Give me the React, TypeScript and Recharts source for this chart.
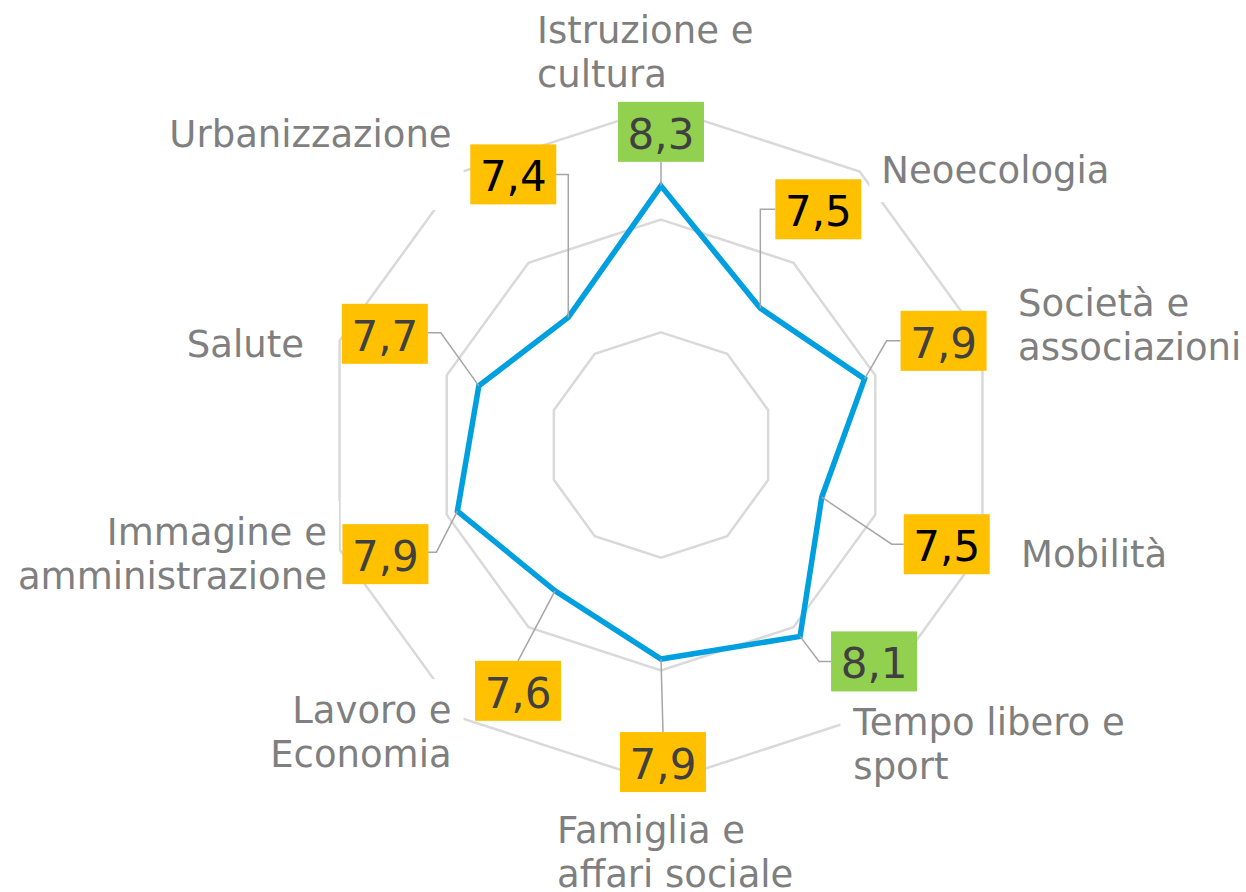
import React, { useLayoutEffect, useRef, useState } from 'react';
import { RadarChart, Radar, PolarGrid, PolarAngleAxis, PolarRadiusAxis } from 'recharts';

// categorie (a capo con \n come nel grafico originale)
const categories = [
    'Istruzione e\ncultura',
    'Neoecologia',
    'Società e\nassociazioni',
    'Mobilità',
    'Tempo libero e\nsport',
    'Famiglia e\naffari sociale',
    'Lavoro e\nEconomia',
    'Immagine e\namministrazione',
    'Salute',
    'Urbanizzazione',
];
const scores = [8.3, 7.5, 7.9, 7.5, 8.1, 7.9, 7.6, 7.9, 7.7, 7.4];
const radiusTicks = [6, 7, 8, 9];

const data = categories.map((name, i) => ({ name, score: scores[i] }));

// posizione delle etichette di categoria rispetto al tick calcolato da recharts
const categoryPlacement = [
    { dx: -124, dy: -56, anchor: 'start', extraBottom: 0 },
    { dx: 17, dy: 18, anchor: 'start', extraBottom: 0 },
    { dx: 28, dy: -22, anchor: 'start', extraBottom: 0 },
    { dx: 31, dy: 15, anchor: 'start', extraBottom: 0 },
    { dx: -11, dy: 10, anchor: 'start', extraBottom: 0 },
    { dx: -104, dy: 52, anchor: 'start', extraBottom: 0 },
    { dx: -6, dy: -2, anchor: 'end', extraBottom: 0 },
    { dx: -5, dy: -7, anchor: 'end', extraBottom: 0 },
    { dx: -28, dy: 19, anchor: 'end', extraBottom: 0 },
    { dx: -6, dy: -18, anchor: 'end', extraBottom: 44 },
];

// box dei valori: centro rispetto al punto + linea di richiamo
const valueLabelLayout = [
    { box: [0, -54], path: [[0, 0], [0, -24]] },
    { box: [58, -99], path: [[0, 0], [0, -99], [15, -99]] },
    { box: [79, -38], path: [[0, 0], [22, -38], [36, -38]] },
    { box: [125, 47], path: [[0, 0], [70, 47], [82, 47]] },
    { box: [74, 25], path: [[0, 0], [19, 25], [31, 25]] },
    { box: [2, 103], path: [[0, 0], [2, 73]] },
    { box: [-37, 100], path: [[0, 0], [-37, 70]] },
    { box: [-72, 43], path: [[0, 0], [-21, 41], [-32, 41]] },
    { box: [-94, -52], path: [[0, 0], [-38, -53], [-51, -53]] },
    { box: [-55, -143], path: [[0, 0], [0, -143], [-14, -143]] },
];

const FONT = '"DejaVu Sans", Verdana, sans-serif';
const BOX_W = 86;
const BOX_H = 60;

const CategoryTick = (props: any) => {
    const { x, y, payload } = props;
    const i = payload?.index ?? props.index ?? 0;
    const place = categoryPlacement[i];
    const lines = String(payload.value).split('\n');
    const ref = useRef<SVGTextElement>(null);
    const [bg, setBg] = useState<{ x: number; y: number; w: number; h: number } | null>(null);

    useLayoutEffect(() => {
        if (ref.current) {
            const b = ref.current.getBBox();
            setBg({ x: b.x - 12, y: b.y - 10, w: b.width + 24, h: b.height + 20 + place.extraBottom });
        }
    }, [x, y]);

    const tx = x + place.dx;
    const ty = y + place.dy;
    return (
        <g>
            {bg && <rect x={bg.x} y={bg.y} width={bg.w} height={bg.h} fill="#ffffff" />}
            <text
                ref={ref}
                x={tx}
                y={ty}
                textAnchor={place.anchor}
                fill="#7f7f7f"
                fontSize={37}
                fontFamily={FONT}
            >
                {lines.map((line, k) => (
                    <tspan key={k} x={tx} dy={k === 0 ? 0 : 44}>
                        {line}
                    </tspan>
                ))}
            </text>
        </g>
    );
};

const renderValueLabel = (props: any) => {
    const { cx, cy, index } = props;
    const v = scores[index];
    const lay = valueLabelLayout[index];
    const bx = cx + lay.box[0];
    const by = cy + lay.box[1];
    const d = lay.path.map((p, k) => `${k === 0 ? 'M' : 'L'}${cx + p[0]},${cy + p[1]}`).join(' ');
    return (
        <g key={`lbl-${index}`}>
            <path d={d} stroke="#a6a6a6" strokeWidth={1.5} fill="none" />
            <rect
                x={bx - BOX_W / 2}
                y={by - BOX_H / 2}
                width={BOX_W}
                height={BOX_H}
                fill={v >= 8 ? '#92d050' : '#ffc000'}
            />
            <text
                x={bx}
                y={by + 17}
                textAnchor="middle"
                fontSize={42}
                fontFamily={FONT}
                fill={v <= 7.5 ? '#000000' : '#404040'}
            >
                {v.toFixed(1).replace('.', ',')}
            </text>
        </g>
    );
};

export default function App() {
    return (
        <div style={{ position: 'absolute', left: 0, top: 0, width: 1246, height: 892, background: '#fff' }}>
            <RadarChart
                width={1246}
                height={892}
                data={data}
                cx={661}
                cy={445}
                outerRadius={338}
                margin={{ top: 0, right: 0, bottom: 0, left: 0 }}
            >
                <PolarGrid gridType="polygon" radialLines={false} stroke="#d9d9d9" strokeWidth={2.5} />
                <PolarRadiusAxis domain={[6, 9]} ticks={radiusTicks} tick={false} axisLine={false} />
                <PolarAngleAxis dataKey="name" tick={<CategoryTick />} tickLine={false} axisLine={false} />
                <Radar
                    dataKey="score"
                    stroke="#009fdf"
                    strokeWidth={5.5}
                    fill="none"
                    fillOpacity={0}
                    dot={renderValueLabel}
                    isAnimationActive={false}
                />
            </RadarChart>
        </div>
    );
}
